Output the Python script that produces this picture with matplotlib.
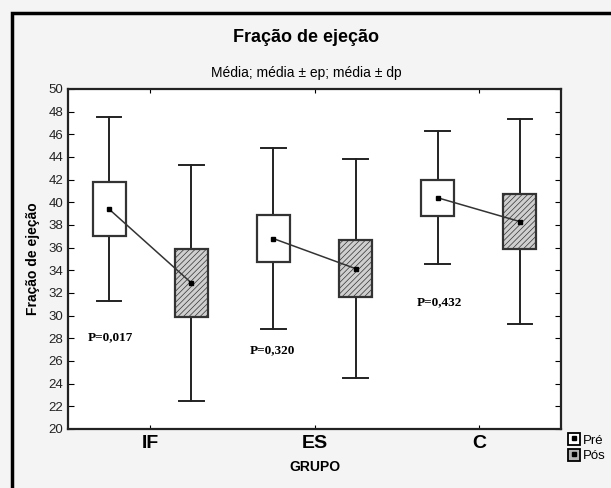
import numpy as np
import matplotlib.pyplot as plt
from matplotlib.patches import Rectangle
from matplotlib.lines import Line2D

# data
grupos = ['IF', 'ES', 'C']
media_pre = [39.4, 36.8, 40.4]
ep_pre = [2.35, 2.05, 1.6]
dp_pre = [8.1, 7.95, 5.85]
media_pos = [32.9, 34.15, 38.3]
ep_pos = [3.0, 2.5, 2.4]
dp_pos = [10.4, 9.65, 9.05]
p_labels = ['P=0,017', 'P=0,320', 'P=0,432']
p_pos_x = [0.62, 1.605, 2.625]
p_pos_y = [28.1, 27.0, 31.2]

plt.rcParams['hatch.color'] = '#b2b2b2'
plt.rcParams['hatch.linewidth'] = 0.5

fig = plt.figure(figsize=(6.11, 4.88), dpi=100, facecolor='#f4f4f4')
W, H = 611.0, 488.0
ax = fig.add_axes([68/W, 1-429/H, (561-68)/W, (429-89)/H])
ax.set_facecolor('white')

# outer frame
fig.add_artist(Rectangle((12/W, -0.1), 1.1, 1-13/H+0.1, transform=fig.transFigure,
                         fill=False, edgecolor='black', linewidth=2.5))

off = 0.25
bw = 0.2
for i in range(3):
    xc = i + 1
    for xs, m, e, d, fc, hat in [(xc-off, media_pre[i], ep_pre[i], dp_pre[i], 'white', None),
                                  (xc+off, media_pos[i], ep_pos[i], dp_pos[i], '#cfcfcf', '//////')]:
        ax.plot([xs, xs], [m-d, m-e], color='#222222', lw=1.4, zorder=2)
        ax.plot([xs, xs], [m+e, m+d], color='#222222', lw=1.4, zorder=2)
        ax.plot([xs-0.075, xs+0.075], [m+d, m+d], color='#222222', lw=1.4, zorder=2)
        ax.plot([xs-0.075, xs+0.075], [m-d, m-d], color='#222222', lw=1.4, zorder=2)
        ax.add_patch(Rectangle((xs-bw/2, m-e), bw, 2*e, facecolor=fc, edgecolor='#333333',
                               linewidth=1.6, hatch=hat, zorder=3))
    ax.plot([xc-off, xc+off], [media_pre[i], media_pos[i]], color='#333333', lw=1.1, zorder=4)
    ax.plot([xc-off, xc+off], [media_pre[i], media_pos[i]], 's', color='black', ms=3.5, zorder=5)
    ax.text(p_pos_x[i], p_pos_y[i], p_labels[i], fontfamily='Liberation Serif',
            fontweight='bold', fontsize=9.5, va='center', ha='left')

ax.set_xlim(0.5, 3.5)
ax.set_ylim(20, 50)
ax.set_xticks([1, 2, 3])
ax.set_xticklabels(grupos, fontsize=14, fontweight='bold', fontfamily='Liberation Sans')
ax.set_yticks(np.arange(20, 51, 2))
ax.tick_params(axis='y', direction='in', length=4, labelsize=9.5, right=True, labelcolor='#222222')
ax.tick_params(axis='x', direction='in', length=3, top=True, pad=4)
for lab in ax.get_yticklabels():
    lab.set_fontfamily('Liberation Sans')
for s in ax.spines.values():
    s.set_linewidth(1.6)
    s.set_color('#222222')

ax.set_ylabel('Fração de ejeção', fontsize=10, fontweight='bold', fontfamily='Liberation Sans', labelpad=6)
ax.set_xlabel('GRUPO', fontsize=10, fontweight='bold', fontfamily='Liberation Sans', labelpad=6)

fig.text(306/W, 1-37/H, 'Fração de ejeção', ha='center', va='center', fontsize=13,
         fontweight='bold', fontfamily='Liberation Sans')
fig.text(306/W, 1-73/H, 'Média; média ± ep; média ± dp', ha='center',
         va='center', fontsize=10, fontfamily='Liberation Sans')

h_pre = Line2D([], [], marker='s', ms=8, mfc='white', mec='black', mew=1.3, ls='none')
h_pos = Line2D([], [], marker='s', ms=8, mfc='#b4b4b4', mec='black', mew=1.3, ls='none')
leg = fig.legend([h_pre, h_pos], ['Pré', 'Pós'], loc='upper left', bbox_to_anchor=(563/W, 1-428/H),
                 frameon=False, prop={'family': 'Liberation Sans', 'size': 9.5},
                 handlelength=0.6, handletextpad=0.4, labelspacing=0.25, borderpad=0)
# black dot inside legend squares
for y_ in [438, 454]:
    fig.add_artist(Line2D([574/W], [1-y_/H], marker='s', ms=3, color='black',
                          transform=fig.transFigure, zorder=20))

fig.savefig('out.png', dpi=100, facecolor=fig.get_facecolor())
